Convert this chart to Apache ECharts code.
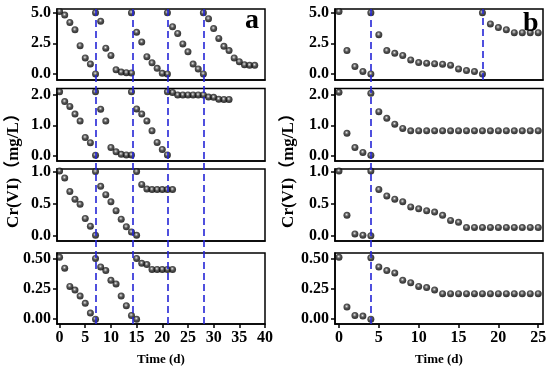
<!DOCTYPE html>
<html>
<head>
<meta charset="utf-8">
<script src="https://cdn.jsdelivr.net/npm/echarts@6/dist/echarts.min.js"></script>
<style>html,body{margin:0;padding:0;background:#fff}#c{width:550px;height:375px}</style>
</head>
<body>
<div id="c"></div>
<script>
// ---------- data (Cr(VI), mg/L) ----------
// column a
const a1Days = [0,1,2,3,4,5,6,7, 7,8,9,10,11,12,13,14, 14,15,16,17,18,19,20,21, 21,22,23,24,25,26,27,28, 28,29,30,31,32,33,34,35,36,37,38];
const a1Cr   = [5.1,4.8,4.2,3.6,2.3,1.3,0.8,0.0, 5.0,4.3,2.1,1.5,0.33,0.15,0.1,0.08, 5.0,3.4,2.6,1.4,0.9,0.45,0.05,0.0, 5.0,3.85,3.3,2.45,1.8,0.8,0.4,0.0, 5.0,4.5,3.7,2.9,2.25,1.9,1.3,1.0,0.75,0.7,0.7];
const a2Days = [0,1,2,3,4,5,6,7, 7,8,9,10,11,12,13,14, 14,15,16,17,18,19,20,21, 21,22,23,24,25,26,27,28,29,30,31,32,33];
const a2Cr   = [2.1,1.78,1.62,1.37,1.14,0.6,0.43,0.02, 2.1,1.53,1.14,0.27,0.13,0.05,0.03,0.03, 2.1,1.54,1.37,1.14,0.82,0.44,0.21,0.03, 2.1,2.08,2.0,2.0,2.0,2.0,2.0,2.0,1.93,1.92,1.86,1.85,1.85];
const a3Days = [0,1,2,3,4,5,6,7, 7,8,9,10,11,12,13,14,15, 15,16,17,18,19,20,21,22];
const a3Cr   = [1.01,0.9,0.69,0.57,0.49,0.27,0.15,0.01, 1.0,0.77,0.64,0.53,0.39,0.26,0.14,0.06,0.01, 1.0,0.8,0.73,0.72,0.72,0.72,0.72,0.72];
const a4Days = [0,1,2,3,4,5,6,7, 7,8,9,10,11,12,13,14,15, 15,16,17,18,19,20,21,22];
const a4Cr   = [0.51,0.42,0.27,0.24,0.19,0.13,0.05,0.0, 0.5,0.43,0.4,0.32,0.29,0.19,0.11,0.03,0.0, 0.5,0.46,0.45,0.41,0.41,0.41,0.41,0.41];
// column b
const b1Days = [0,1,2,3,4, 4,5,6,7,8,9,10,11,12,13,14,15,16,17,18, 18,19,20,21,22,23,24,25];
const b1Cr   = [5.1,1.9,0.6,0.19,0.0, 5.0,3.2,1.9,1.68,1.5,1.14,0.92,0.87,0.82,0.79,0.7,0.4,0.27,0.19,0.0, 5.0,4.08,3.78,3.6,3.37,3.37,3.37,3.37];
const bDays  = [0,1,2,3,4, 4,5,6,7,8,9,10,11,12,13,14,15,16,17,18,19,20,21,22,23,24,25];
const b2Cr   = [2.09,0.74,0.27,0.11,0.02, 2.05,1.45,1.23,1.04,0.9,0.82,0.82,0.82,0.82,0.82,0.82,0.82,0.82,0.82,0.82,0.82,0.82,0.82,0.82,0.82,0.82,0.82];
const b3Cr   = [1.01,0.32,0.03,0.01,0.0, 1.01,0.72,0.62,0.57,0.53,0.45,0.42,0.39,0.37,0.32,0.24,0.21,0.13,0.13,0.13,0.13,0.13,0.13,0.13,0.13,0.13,0.13];
const b4Cr   = [0.51,0.1,0.03,0.025,0.0, 0.505,0.43,0.4,0.38,0.32,0.3,0.27,0.26,0.24,0.21,0.21,0.21,0.21,0.21,0.21,0.21,0.21,0.21,0.21,0.21,0.21,0.21];
// refill (dashed) days
const aRefill = [7, 14.2, 21, 28];
const bRefillAll = [4];
const bRefillTop = [18];
// tick labels
const aXTicks = [0,5,10,15,20,25,30,35,40];
const bXTicks = [0,5,10,15,20,25];
const yTicks = [[0,2.5,5],[0,1,2],[0,0.5,1],[0,0.25,0.5]];
const yDecimals = [1,1,1,2];
const yRanges = [[-0.5,5.3],[-0.17,2.21],[-0.08,1.04],[-0.04,0.545]];
const yName = 'Cr(VI)\uFF08mg/L\uFF09';
const xName = 'Time (d)';

// ---------- layout ----------
const FF = '"Liberation Serif","Times New Roman","Noto Sans CJK SC",serif';
const colLeft = [57, 335];
const colWidth = 208;
const panelTop = [9, 88.5, 169, 253];
const panelH = [71, 72.5, 72, 71];
const xMax = [40, 25.6];
const blue = '#2525d6';
const ball = {type:'radial', x:0.45, y:0.4, r:0.58, colorStops:[
  {offset:0,color:'#f0f0f0'},{offset:0.2,color:'#8a8a8a'},{offset:0.5,color:'#262626'},{offset:1,color:'#000'}]};

const panels = [
  [[a1Days,a1Cr],[a2Days,a2Cr],[a3Days,a3Cr],[a4Days,a4Cr]],
  [[b1Days,b1Cr],[bDays,b2Cr],[bDays,b3Cr],[bDays,b4Cr]]
];
const zip = (xs, ys) => xs.map((x,i)=>[x, ys[i]]);

const grid = [], xAxis = [], yAxis = [], series = [];
const dashStyle = {color:blue, type:[7,4], width:1.6};
for (let c=0;c<2;c++){
  const xt = c===0 ? aXTicks : bXTicks;
  for (let p=0;p<4;p++){
    const gi = grid.length;
    grid.push({left:colLeft[c], top:panelTop[p], width:colWidth, height:panelH[p], show:true, borderColor:'#000', borderWidth:1.5, containLabel:false});
    xAxis.push({gridIndex:gi, type:'value', min:-0.5, max:xMax[c], splitLine:{show:false},
      axisLine:{show:true, onZero:false, lineStyle:{color:'#000', width:1.5}},
      axisTick:{show:p===3, customValues:xt, length:4, lineStyle:{color:'#000', width:1.5}},
      axisLabel:{show:p===3, customValues:xt, margin:6, fontSize:16, fontWeight:'bold', color:'#000', fontFamily:FF}});
    const dec = yDecimals[p];
    yAxis.push({gridIndex:gi, type:'value', min:yRanges[p][0], max:yRanges[p][1], splitLine:{show:false},
      axisLine:{show:true, onZero:false, lineStyle:{color:'#000', width:1.5}},
      axisTick:{show:true, customValues:yTicks[p], length:4, lineStyle:{color:'#000', width:1.5}},
      axisLabel:{show:true, customValues:yTicks[p], margin:6, fontSize:16, fontWeight:'bold', color:'#000', fontFamily:FF,
        formatter:(v)=>Number(v).toFixed(dec)}});
    const s = {type:'scatter', xAxisIndex:gi, yAxisIndex:gi, data:zip(panels[c][p][0], panels[c][p][1]),
      symbolSize:7, itemStyle:{color:ball}, z:3, silent:true};
    if (c===1 && p===0){
      s.markLine = {silent:true, symbol:'none', label:{show:false}, lineStyle:dashStyle,
        data: bRefillTop.map(x=>({xAxis:x}))};
    }
    series.push(s);
  }
}
// overlay grids for full-height dashed lines and shared axis titles
for (let c=0;c<2;c++){
  const gi = grid.length;
  grid.push({left:colLeft[c], top:panelTop[0], width:colWidth, height:panelTop[3]+panelH[3]-panelTop[0], show:false});
  xAxis.push({gridIndex:gi, type:'value', min:-0.5, max:xMax[c], axisLine:{show:false}, axisTick:{show:false}, axisLabel:{show:false}, splitLine:{show:false},
    name:xName, nameLocation:'middle', nameGap:29, nameTextStyle:{fontSize:13, fontWeight:'bold', color:'#000', fontFamily:FF}});
  yAxis.push({gridIndex:gi, type:'value', min:0, max:1, axisLine:{show:false}, axisTick:{show:false}, axisLabel:{show:false}, splitLine:{show:false},
    name:yName, nameLocation:'middle', nameGap:c===0?35:38, nameRotate:90, nameTextStyle:{fontSize:17, fontWeight:'bold', color:'#000', fontFamily:FF}});
  series.push({type:'scatter', xAxisIndex:gi, yAxisIndex:gi, data:[], z:10, silent:true,
    markLine:{silent:true, symbol:'none', label:{show:false}, lineStyle:dashStyle,
      data:(c===0?aRefill:bRefillAll).map(x=>({xAxis:x}))}});
}

const chart = echarts.init(document.getElementById('c'), null, {renderer:'canvas'});
chart.setOption({
  animation:false,
  backgroundColor:'#fff',
  textStyle:{fontFamily:FF},
  title:[
    {text:'a', left:240, top:2, textStyle:{fontSize:28, fontWeight:'bold', color:'#000', fontFamily:FF}},
    {text:'b', left:518, top:5, textStyle:{fontSize:28, fontWeight:'bold', color:'#000', fontFamily:FF}}
  ],
  grid, xAxis, yAxis, series
});
</script>
</body>
</html>
